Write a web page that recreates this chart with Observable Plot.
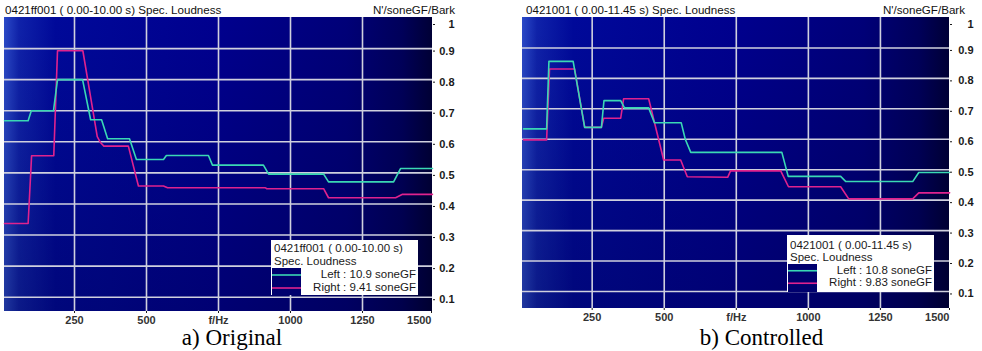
<!DOCTYPE html>
<html>
<head>
<meta charset="utf-8">
<script src="https://cdn.jsdelivr.net/npm/d3@7"></script>
<script src="https://cdn.jsdelivr.net/npm/@observablehq/plot@0.6"></script>
<style>
  html, body { margin: 0; padding: 0; background: #fff; }
  body { position: relative; width: 982px; height: 351px; overflow: hidden;
         font-family: "Liberation Sans", Arial, sans-serif; color: #111; }
  .panel { position: absolute; top: 0; }
  .panel svg { overflow: visible; }
  .title { position: absolute; top: 4px; font-size: 11.6px; line-height: 11px; white-space: nowrap; color: #111; }
  .legend { position: absolute; background: #fff; font-size: 11.5px; color: #1a1a1a; }
  .legend .row { position: absolute; left: 3px; right: 2px; white-space: nowrap; }
  .legend .val { position: absolute; right: 2px; white-space: nowrap; text-align: right; }
  .legend svg { position: absolute; left: 1px; }
  .caption { position: absolute; width: 300px; text-align: center; font-family: "Liberation Serif", "Times New Roman", serif;
             font-size: 23px; line-height: 20px; color: #000; white-space: nowrap; }
</style>
</head>
<body>
<script>
// ---------------- data ----------------
const panelLabels = ["a) Original", "b) Controlled"];
const fileNames = ["0421ff001 ( 0.00-10.00 s)", "0421001 ( 0.00-11.45 s)"];
const quantity = "Spec. Loudness";
const unitLabel = "N'/soneGF/Bark";
const channelNames = ["Left", "Right"];
const totalLoudness = [["10.9", "9.41"], ["10.8", "9.83"]];
const loudnessUnit = "soneGF";
const xTicks = [250, 500, 750, 1000, 1250, 1500];
const xTickLabels = ["250", "500", "f/Hz", "1000", "1250", "1500"];
const yTicks = [0.1, 0.2, 0.3, 0.4, 0.5, 0.6, 0.7, 0.8, 0.9, 1];

// a) Original
const origLeftHz  = [7, 89, 100, 177, 191, 278, 306, 344, 365, 441, 465, 559, 569, 715, 729, 906, 924, 1115, 1132, 1358, 1382, 1493];
const origLeftN   = [0.668, 0.668, 0.70, 0.70, 0.80, 0.80, 0.671, 0.671, 0.610, 0.610, 0.543, 0.543, 0.556, 0.556, 0.525, 0.525, 0.496, 0.496, 0.471, 0.471, 0.514, 0.514];
const origRightHz = [7, 89, 101, 178, 191, 279, 329, 340, 352, 437, 472, 559, 573, 913, 918, 1115, 1132, 1365, 1389, 1493];
const origRightN  = [0.337, 0.337, 0.555, 0.555, 0.893, 0.893, 0.617, 0.598, 0.586, 0.586, 0.458, 0.458, 0.452, 0.452, 0.449, 0.449, 0.420, 0.420, 0.431, 0.431];

// b) Controlled
const ctrlLeftHz  = [12, 92, 100, 184, 224, 282, 291, 349, 362, 446, 466, 559, 573, 592, 908, 930, 1112, 1130, 1362, 1383, 1490];
const ctrlLeftN   = [0.634, 0.634, 0.856, 0.856, 0.639, 0.639, 0.727, 0.727, 0.703, 0.703, 0.654, 0.654, 0.600, 0.557, 0.557, 0.478, 0.478, 0.461, 0.461, 0.491, 0.491];
const ctrlRightHz = [12, 92, 102, 189, 224, 282, 290, 349, 359, 446, 498, 557, 580, 720, 730, 904, 931, 1112, 1140, 1362, 1383, 1490];
const ctrlRightN  = [0.598, 0.598, 0.831, 0.831, 0.639, 0.639, 0.669, 0.669, 0.733, 0.733, 0.532, 0.532, 0.477, 0.475, 0.496, 0.496, 0.444, 0.444, 0.404, 0.404, 0.424, 0.424];

// ---------------- style ----------------
const leftColor = "#3ad8b4";
const rightColor = "#e0228e";
const gridColor = "#cfd0de";
const bgStops = [[0, "#2b4ac8"], [0.035, "#0f22aa"], [0.12, "#00099a"], [0.5, "#00008e"], [0.8, "#000078"], [0.93, "#00005a"], [1, "#000036"]];

function series(hz, n) { return hz.map((h, i) => ({hz: h, n: n[i]})); }

function background(id) {
  return (index, scales, values, dims) => {
    const ns = "http://www.w3.org/2000/svg";
    const g = document.createElementNS(ns, "g");
    const defs = document.createElementNS(ns, "defs");
    const lg = document.createElementNS(ns, "linearGradient");
    lg.setAttribute("id", id);
    lg.setAttribute("x1", "0"); lg.setAttribute("x2", "1"); lg.setAttribute("y1", "0"); lg.setAttribute("y2", "0");
    for (const [o, c] of bgStops) {
      const s = document.createElementNS(ns, "stop");
      s.setAttribute("offset", o); s.setAttribute("stop-color", c);
      lg.appendChild(s);
    }
    const vg = document.createElementNS(ns, "linearGradient");
    vg.setAttribute("id", id + "v");
    vg.setAttribute("x1", "0"); vg.setAttribute("x2", "0"); vg.setAttribute("y1", "0"); vg.setAttribute("y2", "1");
    for (const [o, c, a] of [[0, "#000020", 0], [1, "#000020", 0.25]]) {
      const s = document.createElementNS(ns, "stop");
      s.setAttribute("offset", o); s.setAttribute("stop-color", c); s.setAttribute("stop-opacity", a);
      vg.appendChild(s);
    }
    defs.appendChild(lg); defs.appendChild(vg);
    g.appendChild(defs);
    const x = dims.marginLeft, y = dims.marginTop;
    const w = dims.width - dims.marginLeft - dims.marginRight;
    const h = dims.height - dims.marginTop - dims.marginBottom;
    for (const fill of [`url(#${id})`, `url(#${id}v)`]) {
      const r = document.createElementNS(ns, "rect");
      r.setAttribute("x", x); r.setAttribute("y", y); r.setAttribute("width", w); r.setAttribute("height", h);
      r.setAttribute("fill", fill);
      g.appendChild(r);
    }
    return g;
  };
}

function panel(cfg) {
  const labelFor = d => xTickLabels[xTicks.indexOf(d)];
  const yOpts = {label: null, anchor: "right", tickSize: 2, tickPadding: cfg.yPad, textAnchor: "end", fontWeight: "bold", tickFormat: d => String(d)};
  return Plot.plot({
    width: cfg.width, height: cfg.height,
    marginTop: cfg.mt, marginBottom: cfg.mb, marginLeft: cfg.ml, marginRight: cfg.mr,
    x: {domain: [0, 1500], range: cfg.xRange, label: null},
    y: {domain: cfg.yDomain, label: null},
    style: {fontFamily: "Liberation Sans, Arial, sans-serif", fontSize: "11px", color: "#1a1a1a", background: "transparent", overflow: "visible"},
    marks: [
      background(cfg.id),
      Plot.ruleX(xTicks.slice(0, -1), {stroke: gridColor, strokeWidth: 1.6}),
      Plot.ruleY(yTicks.slice(0, -1), {stroke: gridColor, strokeWidth: 1.6}),
      Plot.line(series(cfg.hzR, cfg.nR), {x: "hz", y: "n", stroke: rightColor, strokeWidth: 1.6}),
      Plot.line(series(cfg.hzL, cfg.nL), {x: "hz", y: "n", stroke: leftColor, strokeWidth: 1.6}),
      Plot.axisX(xTicks.slice(0, -1), {label: null, tickSize: 2, tickPadding: cfg.xPad, tickFormat: labelFor, fontWeight: "bold", fill: "#333"}),
      Plot.axisX(xTicks.slice(-1), {label: null, tickSize: 2, tickPadding: cfg.xPad, tickFormat: labelFor, textAnchor: "end", dx: -3, fontWeight: "bold", fill: "#333"}),
      Plot.axisY(yTicks.slice(0, -1), {...yOpts, dy: 2.5}),
      Plot.axisY(yTicks.slice(-1), {...yOpts, dy: 7})
    ]
  });
}

function addAbs(el, left, top) {
  el.style.left = left + "px"; el.style.top = top + "px";
  document.body.appendChild(el);
  return el;
}

function legend(i, left, top, width, height, lh, padTop) {
  const box = document.createElement("div");
  box.className = "legend";
  box.style.width = width + "px"; box.style.height = height + "px";
  const lines = [fileNames[i], quantity];
  lines.forEach((t, k) => {
    const d = document.createElement("div");
    d.className = "row";
    d.style.top = (padTop + k * lh) + "px"; d.style.lineHeight = lh + "px";
    d.textContent = t;
    box.appendChild(d);
  });
  const swTop = padTop + 2 * lh;
  const ns = "http://www.w3.org/2000/svg";
  const sw = document.createElementNS(ns, "svg");
  sw.setAttribute("width", 29); sw.setAttribute("height", height - swTop);
  sw.style.top = swTop + "px";
  const bg = document.createElementNS(ns, "rect");
  bg.setAttribute("width", 29); bg.setAttribute("height", height - swTop); bg.setAttribute("fill", "#00006e");
  sw.appendChild(bg);
  [leftColor, rightColor].forEach((c, k) => {
    const ln = document.createElementNS(ns, "line");
    const y = lh / 2 + k * lh + 0.5;
    ln.setAttribute("x1", 0); ln.setAttribute("x2", 29); ln.setAttribute("y1", y); ln.setAttribute("y2", y);
    ln.setAttribute("stroke", c); ln.setAttribute("stroke-width", 1.6);
    sw.appendChild(ln);
  });
  box.appendChild(sw);
  channelNames.forEach((nm, k) => {
    const d = document.createElement("div");
    d.className = "val";
    d.style.top = (swTop + k * lh) + "px"; d.style.lineHeight = lh + "px";
    d.textContent = `${nm} : ${totalLoudness[i][k]} ${loudnessUnit}`;
    box.appendChild(d);
  });
  addAbs(box, left, top);
}

// ---------------- panel a ----------------
const pa = document.createElement("div"); pa.className = "panel";
pa.appendChild(panel({
  id: "bga", width: 460, height: 330, mt: 17, mb: 19, ml: 4, mr: 28,
  xRange: [2, 434], yDomain: [0.054, 1.0], xPad: 3, yPad: 20,
  hzL: origLeftHz, nL: origLeftN, hzR: origRightHz, nR: origRightN
}));
addAbs(pa, 0, 0);

// ---------------- panel b ----------------
const pb = document.createElement("div"); pb.className = "panel";
pb.appendChild(panel({
  id: "bgb", width: 472, height: 330, mt: 17, mb: 22, ml: 12, mr: 33,
  xRange: [9.6, 442], yDomain: [0.044, 1.0], xPad: 3, yPad: 22,
  hzL: ctrlLeftHz, nL: ctrlLeftN, hzR: ctrlRightHz, nR: ctrlRightN
}));
addAbs(pb, 510, 0);

// titles
[[5, 0], [526, 1]].forEach(([x, i]) => {
  const t = document.createElement("div"); t.className = "title";
  t.textContent = `${fileNames[i]} ${quantity}`;
  addAbs(t, x, 4);
});
[[455], [965]].forEach(([xr]) => {
  const t = document.createElement("div"); t.className = "title";
  t.textContent = unitLabel;
  t.style.right = (982 - xr) + "px"; t.style.top = "4px";
  document.body.appendChild(t);
});

// legends
legend(0, 271, 240, 147, 55, 13, 1.5);
legend(1, 787, 235, 147, 57, 12.5, 3.5);

// captions
[[232, 0], [761.5, 1]].forEach(([cx, i]) => {
  const c = document.createElement("div"); c.className = "caption";
  c.textContent = panelLabels[i];
  addAbs(c, cx - 150, 328);
});
</script>
</body>
</html>
